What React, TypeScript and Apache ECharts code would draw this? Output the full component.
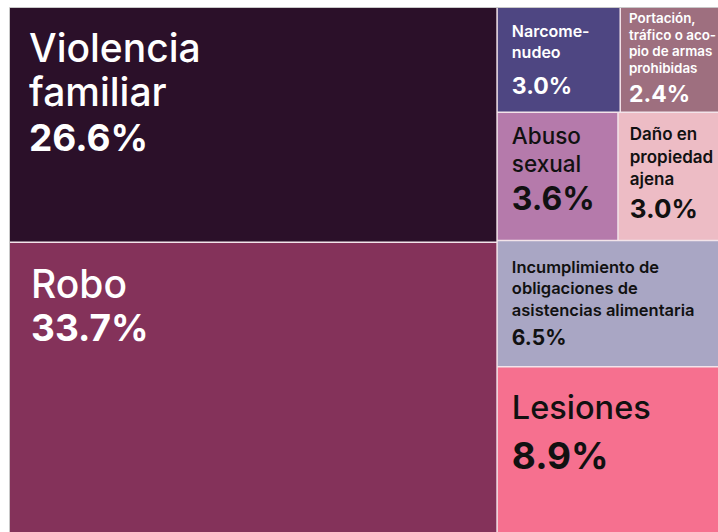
import React, { useEffect, useRef } from "react";
import * as echarts from "echarts";

// Categories (display lines) and shares (%)
const categories = [
  "Violencia familiar",
  "Robo",
  "Narcomenudeo",
  "Portación, tráfico o acopio de armas prohibidas",
  "Abuso sexual",
  "Daño en propiedad ajena",
  "Incumplimiento de obligaciones de asistencias alimentaria",
  "Lesiones",
];
const labelLines = [
  "Violencia\nfamiliar",
  "Robo",
  "Narcome-\nnudeo",
  "Portación,\ntráfico o aco-\npio de armas\nprohibidas",
  "Abuso\nsexual",
  "Daño en\npropiedad\najena",
  "Incumplimiento de\nobligaciones de\nasistencias alimentaria",
  "Lesiones",
];
const shares = [26.6, 33.7, 3.0, 2.4, 3.6, 3.0, 6.5, 8.9];
const colors = ["#2b1029", "#84325a", "#4e4682", "#9e6f7f", "#b57aab", "#edbcc5", "#a9a6c4", "#f6708f"];
const textColors = ["#ffffff", "#ffffff", "#ffffff", "#ffffff", "#111111", "#111111", "#111111", "#111111"];

// label styling per cell: [dx, dy, nameSize, nameLH, nameWeight, valueSize, valueLH, padTop]
const labelStyle: number[][] = [
  [19, 17, 39, 44, 500, 37, 48, 0],
  [21, 19, 39, 44, 500, 37, 44, 0],
  [14, 12, 16, 21, 600, 23, 48, 0],
  [8, 22, 13.4, 16.5, 600, 23, 36, -20],
  [14, 9, 22.5, 28, 500, 32, 42, 0],
  [11, 10, 17, 22.5, 600, 26, 36, 0],
  [14, 15, 16.5, 21.5, 600, 21, 34, 0],
  [14, 20, 32.5, 40, 500, 37, 56, 0],
];

const FONT = "Inter, 'Noto Sans', sans-serif";

function leaf(i: number) {
  const [dx, dy, ns, nlh, nw, vs, vlh, pt] = labelStyle[i];
  return {
    name: categories[i],
    value: shares[i],
    itemStyle: { color: colors[i] },
    label: {
      show: true,
      position: [dx, dy],
      padding: [pt, 0, 0, 0],
      overflow: "none",
      formatter: () => `{n|${labelLines[i]}}\n{v|${shares[i].toFixed(1)}%}`,
      rich: {
        n: { fontFamily: FONT, fontSize: ns, lineHeight: nlh, fontWeight: nw, color: textColors[i] },
        v: { fontFamily: FONT, fontSize: vs, lineHeight: vlh, fontWeight: 700, color: textColors[i] },
      },
    },
  };
}

function group(name: string, children: any[]) {
  const value = children.reduce((s, c) => s + c.value, 0);
  return { name, value, children };
}

export default function App() {
  const ref = useRef<HTMLDivElement>(null);
  useEffect(() => {
    if (!ref.current) return;
    const chart = echarts.init(ref.current, undefined, { renderer: "svg" });
    const data = [
      leaf(0),
      leaf(1),
      group("right", [
        group("top", [group("row1", [leaf(2), leaf(3)]), group("row2", [leaf(4), leaf(5)])]),
        group("bottom", [leaf(6), leaf(7)]),
      ]),
    ];
    chart.setOption({
      animation: false,
      graphic: [
        {
          type: "rect",
          shape: { x: 9.5, y: 7.5, width: 720, height: 560 },
          style: { fill: "none", stroke: "#c8c8c8", lineWidth: 1 },
          z: 0,
        },
      ],
      series: [
        {
          type: "treemap",
          left: 10,
          top: 8,
          width: 708,
          height: 531,
          roam: false,
          nodeClick: false,
          breadcrumb: { show: false },
          sort: false,
          squareRatio: 1,
          itemStyle: { borderWidth: 0, gapWidth: 1.5, borderColor: "#f3e4ea" },
          upperLabel: { show: false },
          data,
        },
      ],
    });
    return () => chart.dispose();
  }, []);
  return (
    <div style={{ position: "fixed", left: 0, top: 0, width: 718, height: 532, overflow: "hidden", background: "#fff" }}>
      <div ref={ref} style={{ width: 718, height: 560 }} />
    </div>
  );
}
